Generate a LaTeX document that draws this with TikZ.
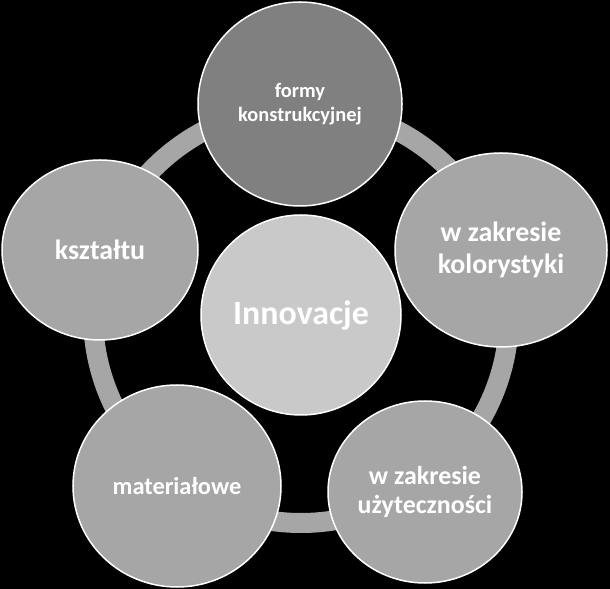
\documentclass[tikz,border=0pt]{standalone}
\usepackage{fontspec}
\setmainfont{Carlito}[BoldFont={Carlito Bold}]
\usetikzlibrary{shapes.geometric}

\begin{document}
\begin{tikzpicture}[x=1bp, y=1bp,
        petal/.style={ellipse, draw=white, line width=1.5bp, text=white, align=center, inner sep=0pt}]
        \colorlet{darkpetal}{black!50}
        \colorlet{petalcolor}{black!35}
        \colorlet{hubcolor}{black!21}
        \colorlet{ringcolor}{black!35}

        % --- Background ---
        \fill[black] (0, 0) rectangle (610, 589);

        % Ring
        \coordinate (mid) at (301, 274);
        \draw[ringcolor, line width=20bp] (mid) circle[radius=208bp];

        % Centre
        \node[petal, fill=hubcolor, minimum width=200bp, minimum height=200bp,
              font=\bfseries\fontsize{34}{38}\selectfont] (hub) at (mid) {Innovacje};

        % Outer circles
        \node[petal, fill=darkpetal, minimum width=204bp, minimum height=204bp,
              font=\bfseries\fontsize{20.5}{24}\selectfont] (forma) at (300, 485) {formy\\konstrukcyjnej};
        \node[petal, fill=petalcolor, minimum width=212bp, minimum height=194bp,
              font=\bfseries\fontsize{28}{32}\selectfont] (kolor) at (501, 339) {w zakresie\\kolorystyki};
        \node[petal, fill=petalcolor, minimum width=194bp, minimum height=182bp,
              font=\bfseries\fontsize{26}{30}\selectfont] (uzytek) at (425, 97) {w zakresie\\użyteczności};
        \node[petal, fill=petalcolor, minimum width=208bp, minimum height=202bp,
              font=\bfseries\fontsize{24.5}{28}\selectfont] (material) at (177, 103) {materiałowe};
        \node[petal, fill=petalcolor, minimum width=196bp, minimum height=180bp,
              font=\bfseries\fontsize{28}{32}\selectfont] (ksztalt) at (100, 339) {kształtu};
    \end{tikzpicture}
\end{document}
